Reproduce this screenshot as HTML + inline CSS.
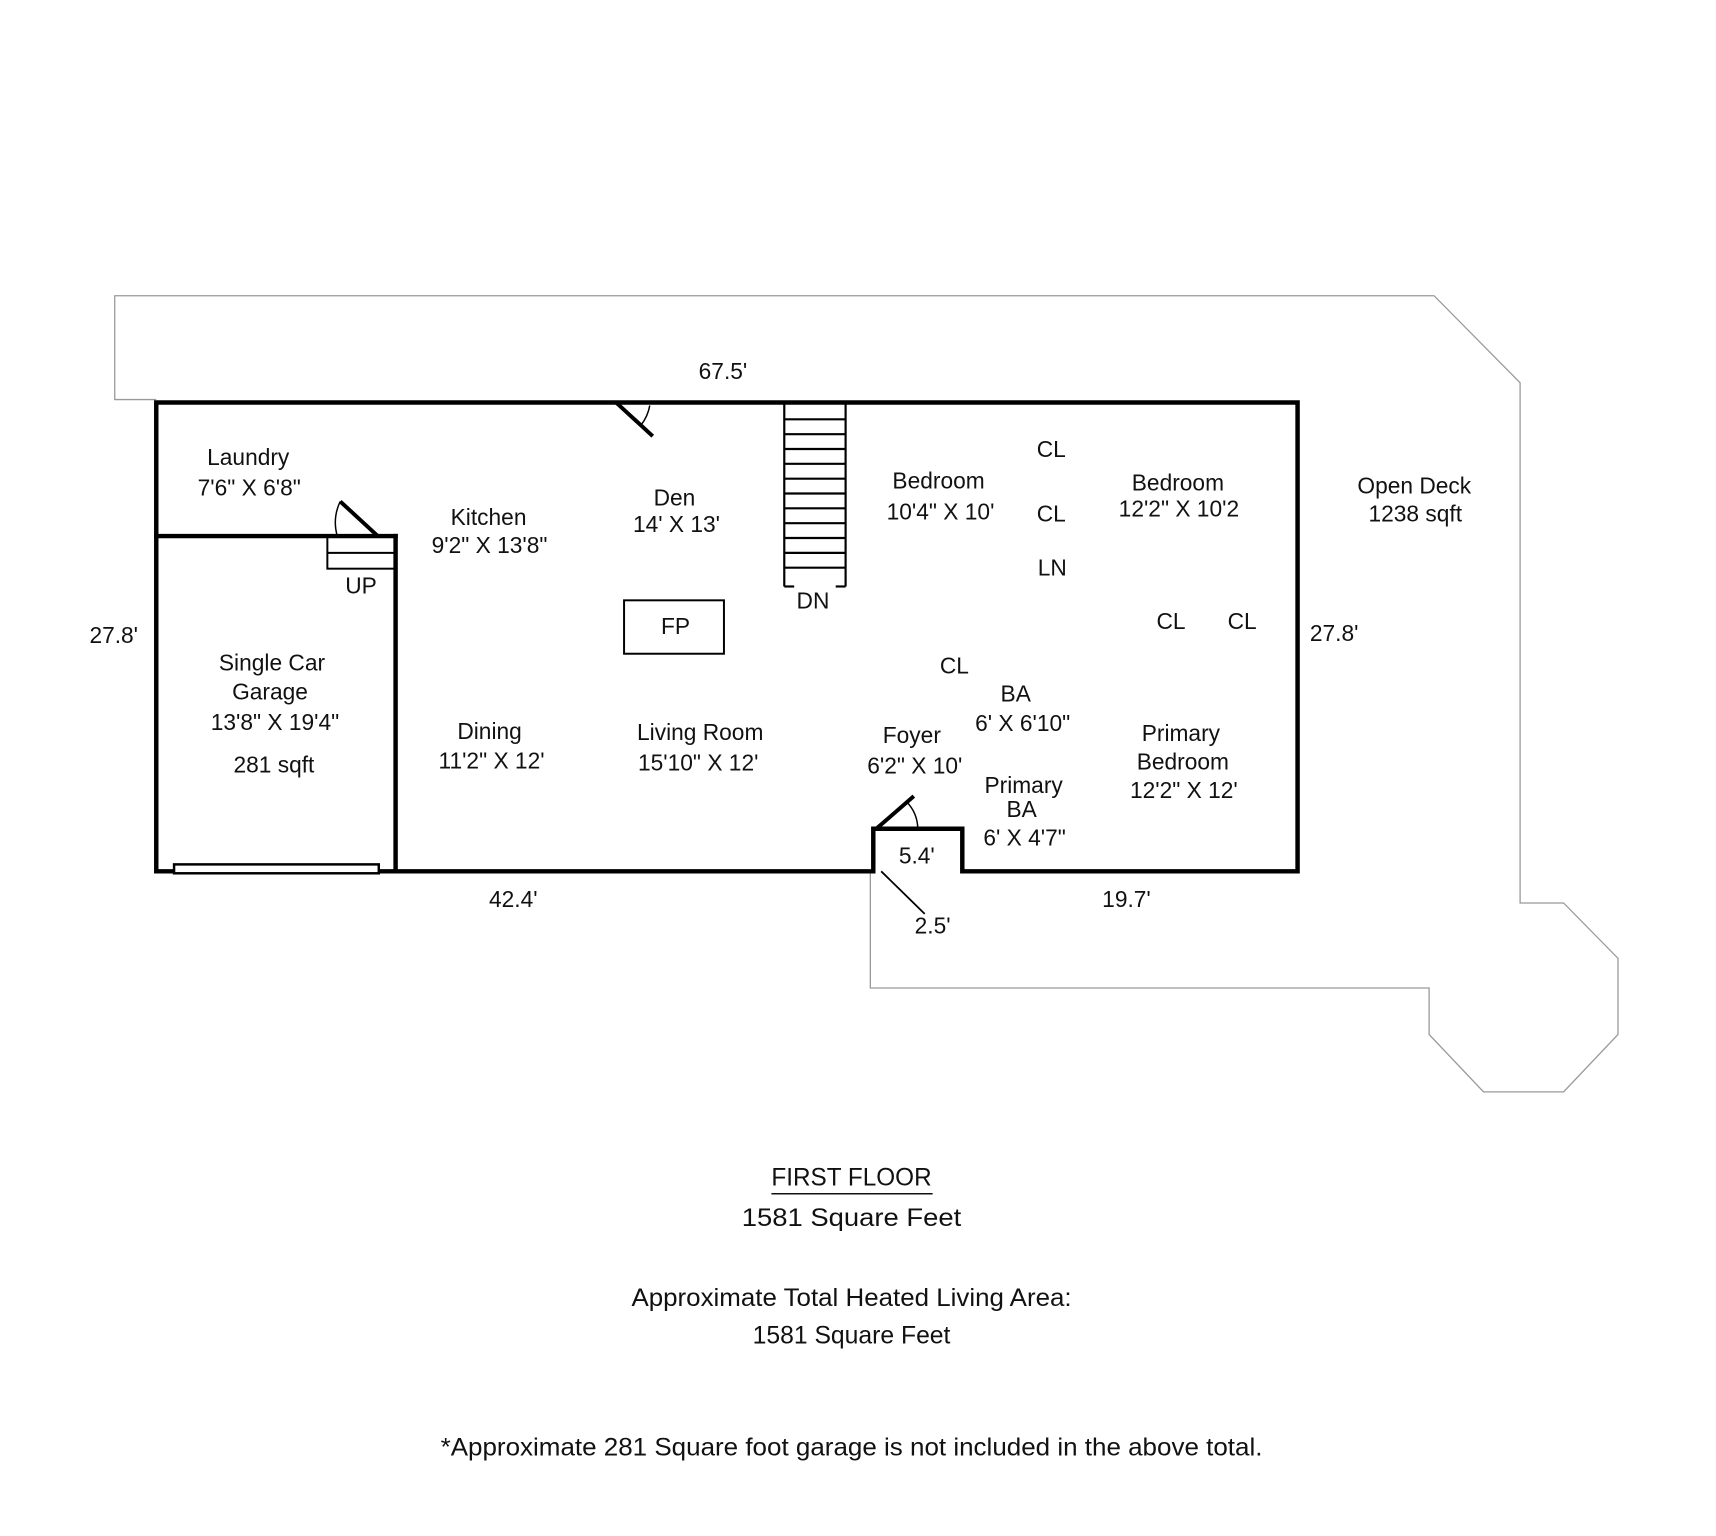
<!DOCTYPE html>
<html><head><meta charset="utf-8"><style>
html,body{margin:0;padding:0;background:#fff}
svg{display:block}
text{font-family:"Liberation Sans",Arial,sans-serif;fill:#111;text-anchor:middle;dominant-baseline:middle}
.r{font-size:23px}
.b{font-size:25px}
</style></head><body>
<svg width="1716" height="1536" viewBox="0 0 1716 1536" xmlns="http://www.w3.org/2000/svg">
<g transform="scale(0.989)">
<polyline fill="none" stroke="#999" stroke-width="1.3" points="158,404 116,404 116,299 1450,299 1537,387 1537,913 1581,913 1636,969 1636,1046 1581,1104 1500,1104 1445,1046 1445,999 880,999 880,881"/>
<g stroke="#000" stroke-width="4.5" fill="none" stroke-linecap="square">
<polyline points="158,881 158,407 1312,407 1312,881 973,881 973,838 883,838 883,881 158,881"/>
<line x1="158" y1="542" x2="400" y2="542"/>
<line x1="400" y1="542" x2="400" y2="881"/>
</g>
<rect x="176" y="874" width="207" height="9" fill="#fff" stroke="#000" stroke-width="2.5"/>
<g stroke="#000" stroke-width="2" fill="none">
<rect x="331" y="542" width="69" height="33"/>
<line x1="331" y1="559" x2="400" y2="559"/>
</g>
<g stroke="#000" fill="none">
<line x1="344" y1="507" x2="382" y2="542" stroke-width="4"/>
<path d="M344,507 A50,50 0 0 0 341,542" stroke-width="1.5"/>
<line x1="623" y1="407" x2="660" y2="441" stroke-width="4"/>
<path d="M657,410 A45,45 0 0 1 648,430" stroke-width="1.5"/>
<line x1="886" y1="838" x2="924" y2="805" stroke-width="4"/>
<path d="M917,811 A40,40 0 0 1 928,838" stroke-width="1.5"/>
<line x1="891" y1="881" x2="935" y2="924" stroke-width="1.8"/>
</g>
<g stroke="#000" stroke-width="2.2" fill="none">
<line x1="793" y1="407" x2="793" y2="593"/>
<line x1="855" y1="407" x2="855" y2="593"/>
<line x1="793" y1="593" x2="803" y2="593"/>
<line x1="845" y1="593" x2="855" y2="593"/>
<line x1="793" y1="424" x2="855" y2="424"/>
<line x1="793" y1="439" x2="855" y2="439"/>
<line x1="793" y1="454" x2="855" y2="454"/>
<line x1="793" y1="469" x2="855" y2="469"/>
<line x1="793" y1="484" x2="855" y2="484"/>
<line x1="793" y1="499" x2="855" y2="499"/>
<line x1="793" y1="514" x2="855" y2="514"/>
<line x1="793" y1="529" x2="855" y2="529"/>
<line x1="793" y1="544" x2="855" y2="544"/>
<line x1="793" y1="559" x2="855" y2="559"/>
<line x1="793" y1="574" x2="855" y2="574"/>
</g>
<rect x="631" y="607" width="101" height="54" fill="none" stroke="#000" stroke-width="2"/>
<g class="r">
<text x="731" y="377">67.5'</text>
<text x="251" y="464">Laundry</text>
<text x="252" y="495">7'6" X 6'8"</text>
<text x="494" y="525">Kitchen</text>
<text x="495" y="553">9'2" X 13'8"</text>
<text x="682" y="505">Den</text>
<text x="684" y="532">14' X 13'</text>
<text x="365" y="594">UP</text>
<text x="822" y="609">DN</text>
<text x="683" y="635">FP</text>
<text x="115" y="644">27.8'</text>
<text x="1349" y="642">27.8'</text>
<text x="275" y="672">Single Car</text>
<text x="273" y="701">Garage</text>
<text x="278" y="732">13'8" X 19'4"</text>
<text x="277" y="775">281 sqft</text>
<text x="495" y="741">Dining</text>
<text x="497" y="771">11'2" X 12'</text>
<text x="708" y="742">Living Room</text>
<text x="706" y="773">15'10" X 12'</text>
<text x="949" y="488">Bedroom</text>
<text x="951" y="519">10'4" X 10'</text>
<text x="1063" y="456">CL</text>
<text x="1063" y="521">CL</text>
<text x="1064" y="576">LN</text>
<text x="1191" y="490">Bedroom</text>
<text x="1192" y="516">12'2" X 10'2</text>
<text x="1430" y="493">Open Deck</text>
<text x="1431" y="521">1238 sqft</text>
<text x="1184" y="630">CL</text>
<text x="1256" y="630">CL</text>
<text x="965" y="675">CL</text>
<text x="1027" y="703">BA</text>
<text x="1034" y="733">6' X 6'10"</text>
<text x="922" y="745">Foyer</text>
<text x="925" y="776">6'2" X 10'</text>
<text x="1194" y="743">Primary</text>
<text x="1196" y="772">Bedroom</text>
<text x="1197" y="801">12'2" X 12'</text>
<text x="1035" y="796">Primary</text>
<text x="1033" y="820">BA</text>
<text x="1036" y="849">6' X 4'7"</text>
<text x="927" y="867">5.4'</text>
<text x="519" y="911">42.4'</text>
<text x="1139" y="911">19.7'</text>
<text x="943" y="938">2.5'</text>
</g>
<g class="b">
<text x="861" y="1192" textLength="162" lengthAdjust="spacingAndGlyphs">FIRST FLOOR</text>
<line x1="780" y1="1207" x2="943" y2="1207" stroke="#111" stroke-width="1.5"/>
<text x="861" y="1233" textLength="222" lengthAdjust="spacingAndGlyphs">1581 Square Feet</text>
<text x="861" y="1314" textLength="445" lengthAdjust="spacingAndGlyphs">Approximate Total Heated Living Area:</text>
<text x="861" y="1352" textLength="200" lengthAdjust="spacingAndGlyphs">1581 Square Feet</text>
<text x="861" y="1465" textLength="831" lengthAdjust="spacingAndGlyphs">*Approximate 281 Square foot garage is not included in the above total.</text>
</g>
</g>
</svg>
</body></html>
